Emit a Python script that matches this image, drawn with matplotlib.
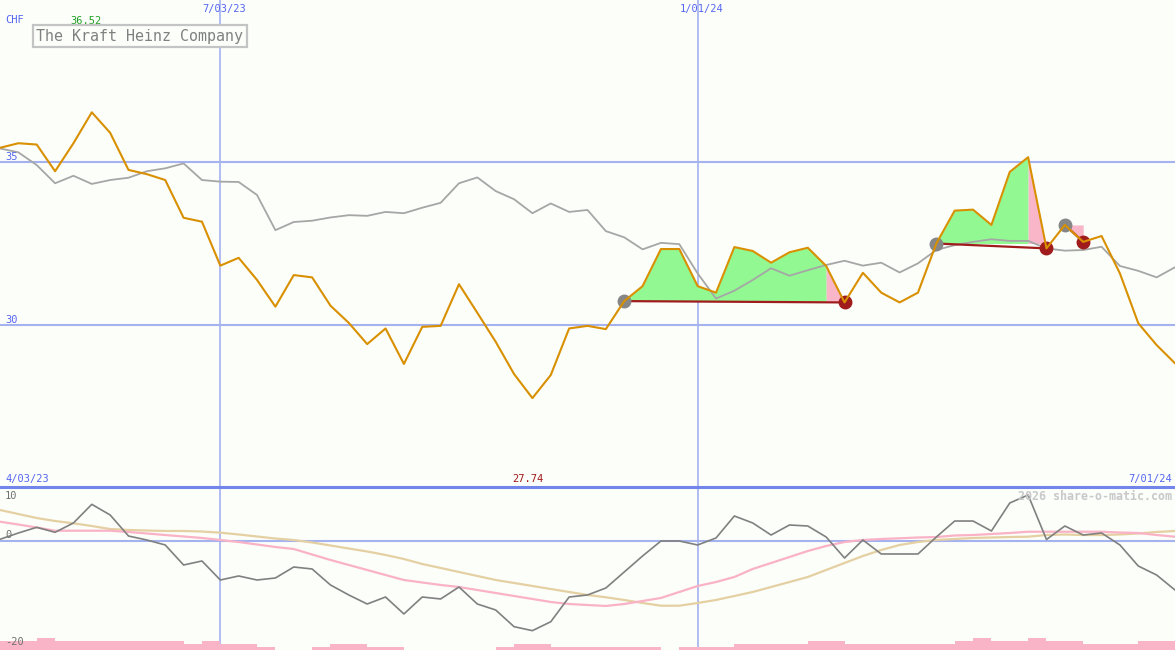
import numpy as np
import matplotlib
matplotlib.use("Agg")
import matplotlib.pyplot as plt
from matplotlib import transforms

# weekly closes in CHF, 4/03/23 .. 7/01/24
price = [35.43, 35.57, 35.53, 34.71, 35.57, 36.52, 35.89, 34.75, 34.62, 34.44,
         33.28, 33.16, 31.81, 32.05, 31.37, 30.55, 31.52, 31.45, 30.58, 30.05,
         29.40, 29.88, 28.79, 29.93, 29.96, 31.24, 30.36, 29.47, 28.48, 27.74,
         28.45, 29.88, 29.96, 29.86, 30.72, 31.18, 32.32, 32.32, 31.18, 30.98,
         32.38, 32.26, 31.90, 32.22, 32.36, 31.80, 30.68, 31.59, 30.98, 30.68,
         30.98, 32.49, 33.50, 33.53, 33.06, 34.69, 35.14, 32.34, 33.06, 32.54,
         32.72, 31.57, 30.04, 29.37, 28.81]

# benchmark, rebased to the price scale
bench = [35.41, 35.29, 34.90, 34.34, 34.57, 34.32, 34.44, 34.51, 34.71, 34.80,
         34.95, 34.44, 34.39, 34.38, 33.98, 32.90, 33.15, 33.19, 33.29, 33.36,
         33.34, 33.46, 33.42, 33.59, 33.74, 34.34, 34.52, 34.10, 33.85, 33.42,
         33.72, 33.46, 33.52, 32.87, 32.68, 32.31, 32.51, 32.47, 31.57, 30.80,
         31.04, 31.37, 31.73, 31.50, 31.67, 31.83, 31.96, 31.81, 31.90, 31.60,
         31.88, 32.29, 32.44, 32.54, 32.62, 32.57, 32.57, 32.34, 32.27, 32.29,
         32.39, 31.80, 31.65, 31.45, 31.76]

# oscillator panel
momentum = [0.32, 1.51, 2.58, 1.64, 3.40, 6.92, 4.91, 0.94, 0.19, -0.75,
            -4.53, -3.77, -7.36, -6.60, -7.36, -6.98, -4.91, -5.28, -8.30, -10.19,
            -11.89, -10.57, -13.77, -10.57, -10.94, -8.68, -11.89, -13.02, -16.17, -16.92,
            -15.23, -10.57, -10.19, -8.87, -5.85, -2.83, 0.00, 0.00, -0.75, 0.57,
            4.72, 3.40, 1.13, 3.02, 2.83, 0.75, -3.21, 0.19, -2.45, -2.45,
            -2.45, 0.75, 3.77, 3.77, 1.89, 7.17, 8.68, 0.28, 2.83, 1.13,
            1.51, -0.75, -4.72, -6.42, -9.25]

signal = [3.64, 3.11, 2.55, 1.94, 1.94, 1.94, 1.94, 1.70, 1.42, 1.13,
          0.85, 0.57, 0.19, -0.19, -0.66, -1.13, -1.51, -2.55, -3.58, -4.53,
          -5.47, -6.42, -7.36, -7.83, -8.30, -8.68, -9.25, -9.81, -10.38, -10.94,
          -11.51, -11.89, -12.08, -12.26, -11.89, -11.32, -10.75, -9.62, -8.49, -7.74,
          -6.79, -5.28, -4.15, -3.02, -1.89, -0.94, -0.19, 0.19, 0.38, 0.51,
          0.66, 0.75, 1.04, 1.13, 1.32, 1.51, 1.75, 1.75, 1.75, 1.75,
          1.75, 1.60, 1.51, 1.13, 0.81]

slow = [5.85, 5.09, 4.34, 3.77, 3.34, 2.83, 2.26, 2.08, 1.98, 1.89,
        1.89, 1.79, 1.57, 1.23, 0.85, 0.47, 0.19, -0.28, -0.85, -1.42,
        -1.98, -2.64, -3.40, -4.34, -5.09, -5.85, -6.60, -7.36, -7.92, -8.49,
        -9.06, -9.62, -10.19, -10.62, -11.13, -11.70, -12.21, -12.21, -11.70, -11.13,
        -10.38, -9.62, -8.68, -7.74, -6.79, -5.47, -4.15, -2.83, -1.70, -0.75,
        -0.19, 0.19, 0.38, 0.57, 0.66, 0.75, 0.81, 1.13, 1.23, 1.13,
        1.13, 1.23, 1.42, 1.70, 1.89]

volume = [3, 3, 4, 3, 3, 3, 3, 3, 3, 3, 2, 3, 2, 2, 1, 0, 0, 1, 2, 2,
          1, 1, 0, 0, 0, 0, 0, 1, 2, 2, 1, 1, 1, 1, 1, 1, 0, 1, 1, 1,
          2, 2, 2, 2, 3, 3, 2, 2, 2, 2, 2, 2, 3, 4, 3, 3, 4, 3, 3, 2,
          2, 2, 3, 3]

# trades: entry / exit week index
entry_idx = [34, 51, 58]
exit_idx = [46, 57, 59]

date_marks = [12, 38]
date_labels = ["7/03/23", "1/01/24"]

bg = "#fcfefa"
blue = "#5566f0"
grid = "#a4b2f0"
orange = "#d99000"
mono = "DejaVu Sans Mono"
fs = 7.5

x = np.arange(len(price))
p = np.array(price)

fig = plt.figure(figsize=(11.75, 6.5), dpi=100)
fig.patch.set_facecolor(bg)
ax2 = fig.add_axes([0, 0, 1, 163 / 650])
ax = fig.add_axes([0, 163 / 650, 1, 487 / 650])
ax.set_zorder(3)
for a in (ax, ax2):
    a.set_facecolor(bg)
    a.set_xlim(0, len(price) - 1)
    a.set_xticks([])
    a.set_yticks([])
    for s in a.spines.values():
        s.set_visible(False)
    for m in date_marks:
        a.axvline(m, color=grid, lw=1.2, zorder=0.5)

# --- price panel
ax.set_ylim(25.01, 39.97)
ax.spines["bottom"].set_visible(True)
ax.spines["bottom"].set_color("#7285ea")
ax.spines["bottom"].set_linewidth(2.2)
left = transforms.blended_transform_factory(fig.transFigure, ax.transData)
for lvl in (35, 30):
    ax.axhline(lvl, color=grid, lw=1.5, zorder=0.5)
    ax.text(5 / 1175, lvl, str(lvl), color=blue, fontsize=fs, family=mono,
            va="bottom", ha="left", transform=left)

for e, o in zip(entry_idx, exit_idx):
    base = p[e]
    if o - 1 > e:
        ax.fill_between(x[e:o], p[e:o], base, color="#92f892", lw=0, zorder=1)
    ax.fill_between(x[o - 1:o + 1], p[o - 1:o + 1], base, color="#f9b6c9", lw=0, zorder=1)
    ax.plot([e, o], [p[e], p[o]], color="#a01c1c", lw=1.6, zorder=2.5)

ax.plot(x, bench, color="#a6a6a6", lw=1.3, zorder=2)
ax.plot(entry_idx, p[entry_idx], "o", ms=9, color="#868686", zorder=3)
ax.plot(exit_idx, p[exit_idx], "o", ms=9, color="#a01c1c", zorder=3)
ax.plot(x, p, color=orange, lw=1.5, zorder=4)

top = transforms.blended_transform_factory(ax.transData, fig.transFigure)
for m, lab in zip(date_marks, date_labels):
    ax.annotate(lab, xy=(m, 1 - 9 / 650), xycoords=top, xytext=(4, 0),
                textcoords="offset pixels", ha="center", va="center",
                color=blue, fontsize=fs, family=mono)
imax = int(np.argmax(p))
imin = int(np.argmin(p))
ax.annotate(f"{p[imax]:.2f}", xy=(imax, 1 - 21 / 650), xycoords=top, xytext=(-6, 0),
            textcoords="offset pixels", ha="center", va="center",
            color="#22a022", fontsize=fs, family=mono)
ax.annotate(f"{p[imin]:.2f}", xy=(imin, 1 - 479 / 650), xycoords=top, xytext=(-5, 0),
            textcoords="offset pixels", ha="center", va="center",
            color="#a01818", fontsize=fs, family=mono)

fig.text(5 / 1175, 1 - 20 / 650, "CHF", color=blue, fontsize=fs, family=mono, va="center")
fig.text(5 / 1175, 1 - 479 / 650, "4/03/23", color=blue, fontsize=fs, family=mono, va="center")
fig.text(1172 / 1175, 1 - 479 / 650, "7/01/24", color=blue, fontsize=fs, family=mono,
         va="center", ha="right")
fig.text(140 / 1175, 1 - 36 / 650, "The Kraft Heinz Company", color="#808080",
         fontsize=10.8, family=mono, ha="center", va="center", zorder=5,
         bbox=dict(boxstyle="square,pad=0.25", fc=bg, ec="#c4c4c4", lw=1.6))

# --- oscillator panel
ax2.set_ylim(-20.57, 10.19)
ax2.axhline(0, color=grid, lw=1.5, zorder=0.5)
ax2.plot(x, slow, color="#e4d0a2", lw=1.6, zorder=2)
ax2.plot(x, signal, color="#f9b2c6", lw=1.6, zorder=2)
ax2.plot(x, momentum, color="#808080", lw=1.2, zorder=3)

ax3 = ax2.twinx()
ax3.set_ylim(0, 163 / 3)
ax3.set_yticks([])
for s in ax3.spines.values():
    s.set_visible(False)
ax3.bar(np.arange(len(volume)), volume, width=1, align="edge", color="#f9b4c8", lw=0, zorder=4)

fig.text(5 / 1175, 1 - 496 / 650, "10", color="#707070", fontsize=fs, family=mono, va="center")
fig.text(5 / 1175, 1 - 535 / 650, "0", color="#707070", fontsize=fs, family=mono, va="center")
fig.text(5 / 1175, 1 - 642 / 650, "-20", color="#707070", fontsize=fs, family=mono, va="center")
fig.text(1172 / 1175, 1 - 496 / 650, "2026 share-o-matic.com", color="#c8c8c8",
         fontsize=8.4, family=mono, fontweight="bold", ha="right", va="center")

fig.savefig("out.png", dpi=100, facecolor=bg)
